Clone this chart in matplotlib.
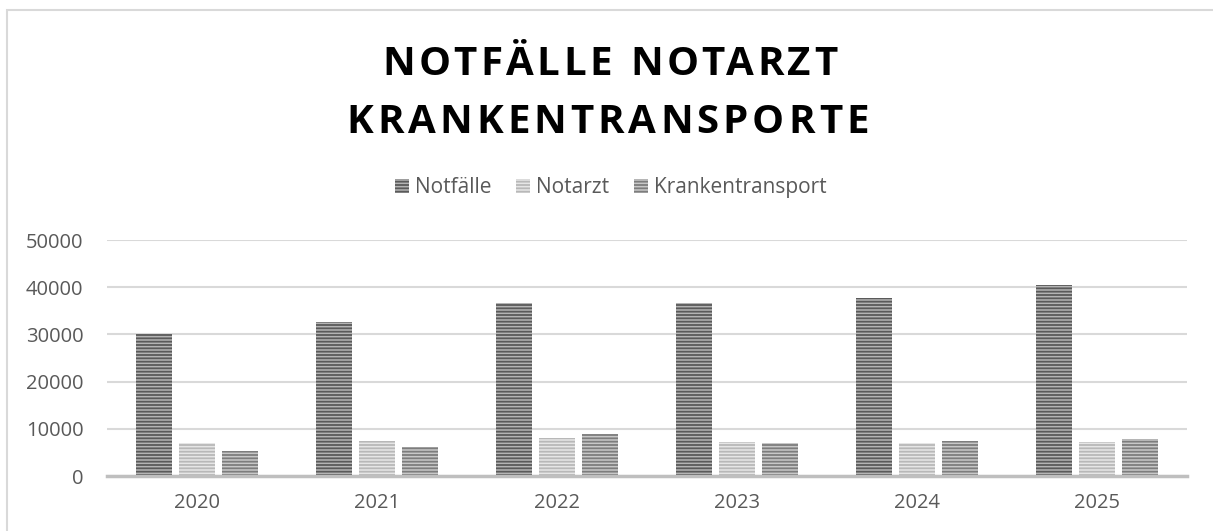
import numpy as np
import matplotlib
matplotlib.use("Agg")
import matplotlib.pyplot as plt
from matplotlib.patches import Rectangle
from matplotlib.font_manager import FontProperties

# Data
years = ["2020", "2021", "2022", "2023", "2024", "2025"]
notfaelle = [30100, 32600, 36600, 36700, 37800, 40500]
notarzt = [6900, 7500, 8100, 7100, 7050, 7100]
krankentransport = [5400, 6200, 9000, 6900, 7400, 7750]
series_names = ["Notfälle", "Notarzt", "Krankentransport"]
yticks = [0, 10000, 20000, 30000, 40000, 50000]
title_lines = ["NOTFÄLLE NOTARZT", "KRANKENTRANSPORTE"]

plt.rcParams["font.family"] = ["Open Sans", "DejaVu Sans"]
plt.rcParams["hatch.linewidth"] = 1.3

text_col = "#595959"
face_cols = ["#b4b4b4", "#e6e6e6", "#c8c8c8"]
hatch_cols = ["#5a5a5a", "#b8b8b8", "#7d7d7d"]

W, H = 1213, 531
fig = plt.figure(figsize=(W / 100, H / 100), dpi=100)
ax = fig.add_axes([107 / W, 55 / H, 1080 / W, 236 / H])

x = np.arange(len(years))
width = 0.2
step = 0.24
all_series = [notfaelle, notarzt, krankentransport]
for i, vals in enumerate(all_series):
    ax.bar(x + (i - 1) * step, vals, width, color=face_cols[i],
           edgecolor=hatch_cols[i], linewidth=0, hatch="-----",
           label=series_names[i], zorder=3)

ax.set_xlim(-0.5, len(years) - 0.5)
ax.set_ylim(0, 50000)
ax.set_yticks(yticks)
ax.set_yticklabels([str(t) for t in yticks])
ax.set_xticks(x)
ax.set_xticklabels(years)
ax.tick_params(axis="both", length=0, labelsize=14.5, labelcolor=text_col)
ax.tick_params(axis="y", pad=17)
ax.tick_params(axis="x", pad=12)
ax.grid(axis="y", color="#d9d9d9", linewidth=1.5, zorder=0)
for s in ["top", "right", "left"]:
    ax.spines[s].set_visible(False)
ax.spines["bottom"].set_color("#bfbfbf")
ax.spines["bottom"].set_linewidth(2.5)
ax.spines["bottom"].set_zorder(4)

# Title with letter spacing (drawn glyph by glyph)
renderer = fig.canvas.get_renderer()
tprop = FontProperties(family=["Open Sans", "DejaVu Sans"], weight="bold", size=29)


def text_w(s):
    w, h, d = renderer.get_text_width_height_descent(s, tprop, ismath=False)
    return w


def spaced_title(line, cx, baseline, track):
    total = text_w(line) + (len(line) - 1) * track
    start = cx - total / 2
    for i, ch in enumerate(line):
        if ch == " ":
            continue
        xr = start + text_w(line[:i + 1]) + i * track
        fig.text(xr / W, 1 - baseline / H, ch, ha="right", va="baseline",
                 fontproperties=tprop, color="black")


spaced_title(title_lines[0], 610, 75, 3.7)
spaced_title(title_lines[1], 607.5, 133, 4.0)

# Legend
leg = fig.legend(loc="center", bbox_to_anchor=(611 / W, 1 - 188 / H), ncol=3,
                 frameon=False, fontsize=15, handlelength=0.65, handleheight=0.65,
                 handletextpad=0.3, columnspacing=1.2)
for t in leg.get_texts():
    t.set_color(text_col)

# Chart border
fig.patches.append(Rectangle((7 / W, -0.1), 1.2, 1 - 10 / H + 0.1,
                             transform=fig.transFigure, fill=False,
                             edgecolor="#d9d9d9", linewidth=1.5))

fig.savefig("out.png", dpi=100)
